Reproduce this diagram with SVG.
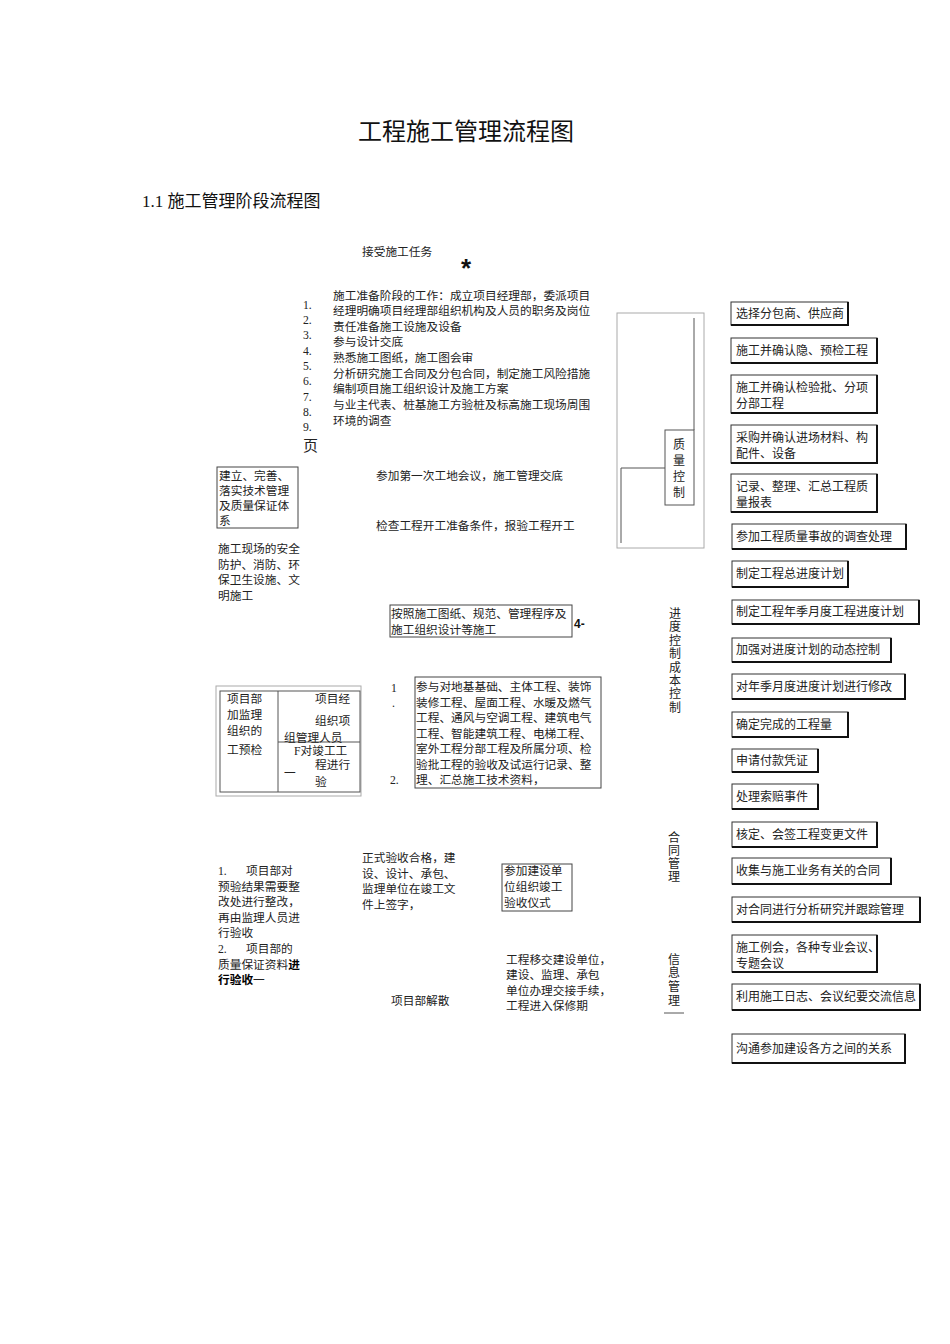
<svg xmlns="http://www.w3.org/2000/svg" width="950" height="1344" viewBox="0 0 950 1344">
<style>
.sf{font-family:"Liberation Serif","Noto Sans CJK SC",serif;font-size:11.7px;fill:#222}
.ss{font-family:"Liberation Sans","Noto Sans CJK SC",sans-serif;font-size:12px;fill:#222}
.bx{fill:none;stroke:#444;stroke-width:1}
.rb{fill:#fff;stroke:#333;stroke-width:1}
.sh{fill:none;stroke:#111;stroke-width:2}
.lg{fill:none;stroke:#aaa;stroke-width:1}
.dk{fill:none;stroke:#555;stroke-width:1}
.vt{text-anchor:middle}
</style>
<rect width="950" height="1344" fill="#fff"/>
<g id="title">
<text x="358" y="140" style="font-family:'Noto Sans CJK SC',sans-serif;font-size:24px;fill:#111">工程施工管理流程图</text>
<text x="142" y="207" style="font-family:'Liberation Serif','Noto Sans CJK SC',serif;font-size:17px;fill:#111">1.1 施工管理阶段流程图</text>
</g>
<g id="connectors">
<rect x="617" y="313" width="87" height="235" class="lg"/>
<path d="M694 318 V430" class="dk"/>
<path d="M665 468 H621 V543" class="dk"/>
<path d="M664 1013 H684" class="dk"/>
</g>
<g id="n_start">
<text x="362" y="256" class="sf">接受施工任务</text>
<text x="466" y="277" text-anchor="middle" style="font-family:'Liberation Sans',sans-serif;font-size:26px;font-weight:bold;fill:#111">*</text>
</g>
<g id="n_prep">
<text x="303" y="309" class="sf">1.</text>
<text x="303" y="324" class="sf">2.</text>
<text x="303" y="339" class="sf">3.</text>
<text x="303" y="355" class="sf">4.</text>
<text x="303" y="370" class="sf">5.</text>
<text x="303" y="385" class="sf">6.</text>
<text x="303" y="401" class="sf">7.</text>
<text x="303" y="416" class="sf">8.</text>
<text x="303" y="431" class="sf">9.</text>
<text x="333" y="300" class="sf">施工准备阶段的工作：成立项目经理部，委派项目</text>
<text x="333" y="315" class="sf">经理明确项目经理部组织机构及人员的职务及岗位</text>
<text x="333" y="331" class="sf">责任准备施工设施及设备</text>
<text x="333" y="346" class="sf">参与设计交底</text>
<text x="333" y="362" class="sf">熟悉施工图纸，施工图会审</text>
<text x="333" y="378" class="sf">分析研究施工合同及分包合同，制定施工风险措施</text>
<text x="333" y="393" class="sf">编制项目施工组织设计及施工方案</text>
<text x="333" y="409" class="sf">与业主代表、桩基施工方验桩及标高施工现场周围</text>
<text x="333" y="425" class="sf">环境的调查</text>
<text x="303" y="451" class="sf" style="font-size:15px">页</text>
</g>
<g id="n_tech">
<rect x="217" y="467" width="81" height="61" class="bx"/>
<text x="219" y="480" class="sf">建立、完善、</text>
<text x="219" y="495" class="sf">落实技术管理</text>
<text x="219" y="510" class="sf">及质量保证体</text>
<text x="219" y="525" class="sf">系</text>
</g>
<g id="n_safety">
<text x="218" y="553" class="sf">施工现场的安全</text>
<text x="218" y="569" class="sf">防护、消防、环</text>
<text x="218" y="584" class="sf">保卫生设施、文</text>
<text x="218" y="600" class="sf">明施工</text>
</g>
<g id="n_meeting"><text x="376" y="480" class="sf">参加第一次工地会议，施工管理交底</text></g>
<g id="n_check"><text x="376" y="530" class="sf">检查工程开工准备条件，报验工程开工</text></g>
<g id="n_build">
<rect x="390" y="605" width="182" height="32" class="bx"/>
<text x="391" y="618" class="sf">按照施工图纸、规范、管理程序及</text>
<text x="391" y="634" class="sf">施工组织设计等施工</text>
<text x="574" y="628" style="font-family:'Liberation Sans',sans-serif;font-size:12px;font-weight:bold;fill:#111">4-</text>
</g>
<g id="n_preinspect">
<rect x="216" y="686" width="145" height="110" class="lg"/>
<rect x="220" y="691" width="140" height="101" class="dk"/>
<path d="M278 691 V792 M278 742 H360" class="dk"/>
<text x="227" y="703" class="sf">项目部</text>
<text x="227" y="719" class="sf">加监理</text>
<text x="227" y="735" class="sf">组织的</text>
<text x="227" y="754" class="sf">工预检</text>
<text x="315" y="703" class="sf">项目经</text>
<text x="315" y="725" class="sf">组织项</text>
<text x="284" y="742" class="sf">组管理人员</text>
<text x="294" y="755" class="sf">F对竣工工</text>
<text x="315" y="769" class="sf">程进行</text>
<text x="284" y="777" class="sf">一</text>
<text x="315" y="786" class="sf">验</text>
</g>
<g id="n_accept">
<text x="391" y="692" class="sf">1</text>
<text x="392" y="707" class="sf">.</text>
<text x="390" y="784" class="sf">2.</text>
<rect x="415" y="677" width="186" height="111" class="bx"/>
<text x="416" y="691" class="sf">参与对地基基础、主体工程、装饰</text>
<text x="416" y="707" class="sf">装修工程、屋面工程、水暖及燃气</text>
<text x="416" y="722" class="sf">工程、通风与空调工程、建筑电气</text>
<text x="416" y="738" class="sf">工程、智能建筑工程、电梯工程、</text>
<text x="416" y="753" class="sf">室外工程分部工程及所属分项、检</text>
<text x="416" y="769" class="sf">验批工程的验收及试运行记录、整</text>
<text x="416" y="784" class="sf">理、汇总施工技术资料，</text>
</g>
<g id="n_rectify">
<text x="218" y="875" class="sf">1.</text><text x="246" y="875" class="sf">项目部对</text>
<text x="218" y="891" class="sf">预验结果需要整</text>
<text x="218" y="906" class="sf">改处进行整改，</text>
<text x="218" y="922" class="sf">再由监理人员进</text>
<text x="218" y="937" class="sf">行验收</text>
<text x="218" y="953" class="sf">2.</text><text x="246" y="953" class="sf">项目部的</text>
<text x="218" y="969" class="sf">质量保证资料<tspan font-weight="bold" fill="#000">进</tspan></text>
<text x="218" y="984" class="sf"><tspan font-weight="bold" fill="#000">行验收</tspan>一</text>
</g>
<g id="n_sign">
<text x="362" y="862" class="sf">正式验收合格，建</text>
<text x="362" y="878" class="sf">设、设计、承包、</text>
<text x="362" y="893" class="sf">监理单位在竣工文</text>
<text x="362" y="909" class="sf">件上签字，</text>
</g>
<g id="n_ceremony">
<rect x="502" y="864" width="70" height="47" class="bx"/>
<text x="504" y="875" class="sf">参加建设单</text>
<text x="504" y="891" class="sf">位组织竣工</text>
<text x="504" y="907" class="sf">验收仪式</text>
</g>
<g id="n_handover">
<text x="506" y="964" class="sf">工程移交建设单位，</text>
<text x="506" y="979" class="sf">建设、监理、承包</text>
<text x="506" y="995" class="sf">单位办理交接手续，</text>
<text x="506" y="1010" class="sf">工程进入保修期</text>
</g>
<g id="n_dissolve"><text x="391" y="1005" class="sf">项目部解散</text></g>
<g id="n_quality">
<rect x="665" y="430" width="29" height="75" class="dk"/>
<text x="679" y="449" class="ss vt">质</text>
<text x="679" y="465" class="ss vt">量</text>
<text x="679" y="481" class="ss vt">控</text>
<text x="679" y="497" class="ss vt">制</text>
</g>
<g id="n_progress">
<text x="675" y="618" class="ss vt">进</text>
<text x="675" y="631" class="ss vt">度</text>
<text x="675" y="645" class="ss vt">控</text>
<text x="675" y="658" class="ss vt">制</text>
<text x="675" y="672" class="ss vt">成</text>
<text x="675" y="685" class="ss vt">本</text>
<text x="675" y="698" class="ss vt">控</text>
<text x="675" y="712" class="ss vt">制</text>
</g>
<g id="n_contract">
<text x="674" y="842" class="ss vt">合</text>
<text x="674" y="855" class="ss vt">同</text>
<text x="674" y="868" class="ss vt">管</text>
<text x="674" y="881" class="ss vt">理</text>
</g>
<g id="n_info">
<text x="674" y="964" class="ss vt">信</text>
<text x="674" y="977" class="ss vt">息</text>
<text x="674" y="991" class="ss vt">管</text>
<text x="674" y="1005" class="ss vt">理</text>
</g>
<g id="r1"><rect x="731" y="302" width="117" height="23" class="rb"/><path d="M848 302 V325 H731" class="sh"/><text x="736" y="318" class="ss">选择分包商、供应商</text></g>
<g id="r2"><rect x="731" y="338" width="146" height="25" class="rb"/><path d="M877 338 V363 H731" class="sh"/><text x="736" y="355" class="ss">施工并确认隐、预检工程</text></g>
<g id="r3"><rect x="731" y="375" width="146" height="38" class="rb"/><path d="M877 375 V413 H731" class="sh"/><text x="736" y="392" class="ss">施工并确认检验批、分项</text><text x="736" y="408" class="ss">分部工程</text></g>
<g id="r4"><rect x="731" y="425" width="146" height="38" class="rb"/><path d="M877 425 V463 H731" class="sh"/><text x="736" y="442" class="ss">采购并确认进场材料、构</text><text x="736" y="458" class="ss">配件、设备</text></g>
<g id="r5"><rect x="731" y="474" width="146" height="38" class="rb"/><path d="M877 474 V512 H731" class="sh"/><text x="736" y="491" class="ss">记录、整理、汇总工程质</text><text x="736" y="507" class="ss">量报表</text></g>
<g id="r6"><rect x="732" y="524" width="174" height="25" class="rb"/><path d="M906 524 V549 H732" class="sh"/><text x="736" y="541" class="ss">参加工程质量事故的调查处理</text></g>
<g id="r7"><rect x="732" y="561" width="116" height="26" class="rb"/><path d="M848 561 V587 H732" class="sh"/><text x="736" y="578" class="ss">制定工程总进度计划</text></g>
<g id="r8"><rect x="732" y="600" width="187" height="24" class="rb"/><path d="M919 600 V624 H732" class="sh"/><text x="736" y="616" class="ss">制定工程年季月度工程进度计划</text></g>
<g id="r9"><rect x="732" y="638" width="159" height="24" class="rb"/><path d="M891 638 V662 H732" class="sh"/><text x="736" y="654" class="ss">加强对进度计划的动态控制</text></g>
<g id="r10"><rect x="732" y="674" width="173" height="25" class="rb"/><path d="M905 674 V699 H732" class="sh"/><text x="736" y="691" class="ss">对年季月度进度计划进行修改</text></g>
<g id="r11"><rect x="732" y="712" width="116" height="25" class="rb"/><path d="M848 712 V737 H732" class="sh"/><text x="736" y="729" class="ss">确定完成的工程量</text></g>
<g id="r12"><rect x="732" y="749" width="86" height="23" class="rb"/><path d="M818 749 V772 H732" class="sh"/><text x="736" y="765" class="ss">申请付款凭证</text></g>
<g id="r13"><rect x="732" y="784" width="86" height="25" class="rb"/><path d="M818 784 V809 H732" class="sh"/><text x="736" y="801" class="ss">处理索赔事件</text></g>
<g id="r14"><rect x="732" y="822" width="145" height="25" class="rb"/><path d="M877 822 V847 H732" class="sh"/><text x="736" y="839" class="ss">核定、会签工程变更文件</text></g>
<g id="r15"><rect x="732" y="858" width="159" height="26" class="rb"/><path d="M891 858 V884 H732" class="sh"/><text x="736" y="875" class="ss">收集与施工业务有关的合同</text></g>
<g id="r16"><rect x="732" y="897" width="188" height="25" class="rb"/><path d="M920 897 V922 H732" class="sh"/><text x="736" y="914" class="ss">对合同进行分析研究并跟踪管理</text></g>
<g id="r17"><rect x="732" y="935" width="145" height="37" class="rb"/><path d="M877 935 V972 H732" class="sh"/><text x="736" y="952" class="ss">施工例会，各种专业会议、</text><text x="736" y="968" class="ss">专题会议</text></g>
<g id="r18"><rect x="732" y="984" width="188" height="26" class="rb"/><path d="M920 984 V1010 H732" class="sh"/><text x="736" y="1001" class="ss">利用施工日志、会议纪要交流信息</text></g>
<g id="r19"><rect x="732" y="1034" width="173" height="29" class="rb"/><path d="M905 1034 V1063 H732" class="sh"/><text x="736" y="1053" class="ss">沟通参加建设各方之间的关系</text></g>
</svg>
